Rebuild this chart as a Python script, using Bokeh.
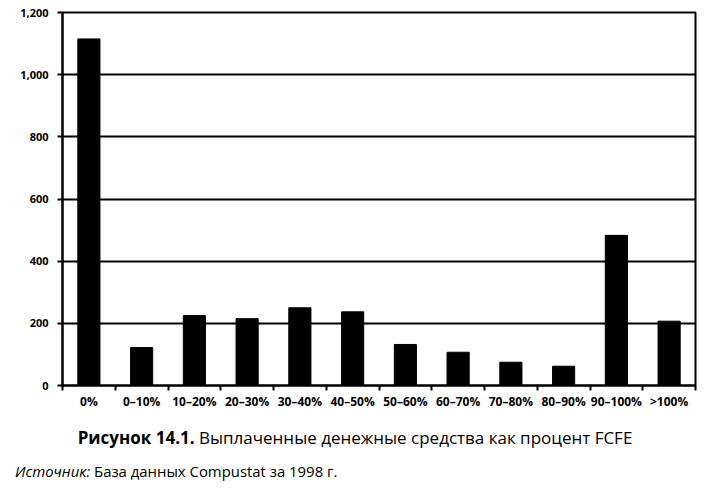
from bokeh.plotting import figure
from bokeh.models import FixedTicker, NumeralTickFormatter, ColumnDataSource, Range1d, Div
from bokeh.layouts import column
from bokeh.embed import file_html
from bokeh.resources import INLINE

categories = ["0%", "0–10%", "10–20%", "20–30%", "30–40%", "40–50%",
              "50–60%", "60–70%", "70–80%", "80–90%", "90–100%", ">100%"]
counts = [1115, 122, 225, 215, 250, 237, 132, 107, 75, 62, 483, 207]
y_ticks = [0, 200, 400, 600, 800, 1000, 1200]

caption_bold = "Рисунок 14.1."
caption_text = "Выплаченные денежные средства как процент FCFE"
source_italic = "Источник:"
source_text = "База данных Compustat за 1998 г."

FONT = "Open Sans"

positions = list(range(len(categories)))
src = ColumnDataSource(data=dict(x=positions, top=counts))

p = figure(width=700, height=420, output_backend="svg", toolbar_location=None,
           x_range=Range1d(-0.5, len(categories) - 0.5), y_range=Range1d(0, 1200),
           min_border_left=62, min_border_right=5, min_border_top=12, min_border_bottom=35)

p.vbar(x="x", top="top", width=0.42, color="black", source=src)

p.outline_line_color = "black"
p.outline_line_width = 2
p.background_fill_color = "white"
p.border_fill_color = "white"

# y axis
p.yaxis.ticker = FixedTicker(ticks=y_ticks)
p.yaxis.formatter = NumeralTickFormatter(format="0,0")
p.yaxis.axis_line_color = "black"
p.yaxis.axis_line_width = 2
p.yaxis.major_tick_line_width = 2
p.yaxis.major_tick_out = 5
p.yaxis.major_tick_in = 0
p.yaxis.minor_tick_line_color = None
p.yaxis.major_label_standoff = 9
p.yaxis.major_label_text_font = FONT
p.yaxis.major_label_text_font_style = "bold"
p.yaxis.major_label_text_font_size = "11px"
p.yaxis.major_label_text_color = "black"

# x axis: labels at bar centers, ticks at category boundaries
p.xaxis.ticker = FixedTicker(ticks=positions,
                             minor_ticks=[i - 0.5 for i in range(len(categories) + 1)])
p.xaxis.major_label_overrides = {i: c for i, c in zip(positions, categories)}
p.xaxis.axis_line_color = "black"
p.xaxis.axis_line_width = 2
p.xaxis.major_tick_out = 0
p.xaxis.major_tick_in = 0
p.xaxis.major_tick_line_color = None
p.xaxis.minor_tick_line_color = "black"
p.xaxis.minor_tick_line_width = 2
p.xaxis.minor_tick_out = 5
p.xaxis.minor_tick_in = 0
p.xaxis.major_label_standoff = 2
p.xaxis.major_label_text_font = FONT
p.xaxis.major_label_text_font_style = "bold"
p.xaxis.major_label_text_font_size = "12px"
p.xaxis.major_label_text_color = "black"

p.xgrid.grid_line_color = None
p.ygrid.ticker = FixedTicker(ticks=y_ticks)
p.ygrid.grid_line_color = "black"
p.ygrid.grid_line_width = 2

html = (
    f'<div style="font-family:\'{FONT}\';color:#000;width:700px;">'
    f'<div style="font-size:17px;line-height:22px;margin-top:7px;text-align:center;padding-left:10px;">'
    f'<b>{caption_bold}</b> {caption_text}</div>'
    f'<div style="font-size:14.9px;line-height:20px;margin-top:12px;padding-left:15px;">'
    f'<i>{source_italic}</i> {source_text}</div>'
    f'</div>'
)
caption = Div(text=html, width=700, height=64, margin=(0, 0, 0, 0))

layout = column(p, caption, spacing=0)

open("out.html", "w").write(file_html(layout, INLINE))
